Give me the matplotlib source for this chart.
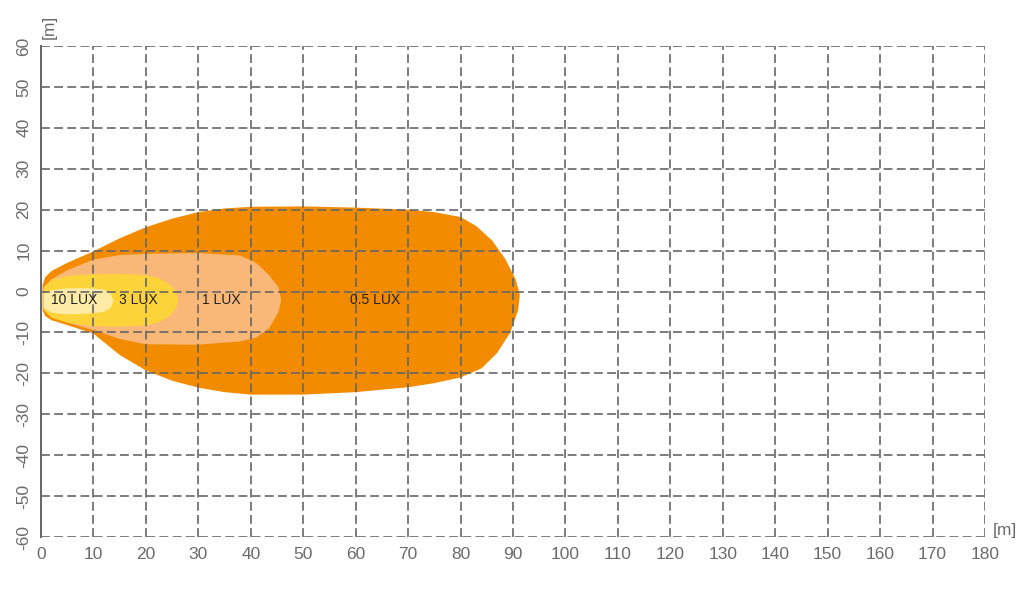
import matplotlib
matplotlib.use("Agg")
import matplotlib.pyplot as plt

plt.rcParams['font.family'] = ['Liberation Sans', 'DejaVu Sans']
plt.rcParams['axes.unicode_minus'] = False

# Illuminance zones (outline points, metres)
x_05 = [0.3, 0.8, 2, 5, 10, 15, 20, 25, 30, 35, 40, 50, 60, 70, 75, 80, 83, 86,
        88.5, 90.5, 91.3, 91, 89.5, 87, 84, 80, 75, 70, 60, 50, 40, 35, 30, 25,
        20, 15, 10, 5, 2, 0.8, 0.3]
y_05 = [1.5, 3.5, 5, 7, 9.8, 13, 15.7, 17.8, 19.4, 20.3, 20.7, 20.8, 20.5, 20,
        19.4, 18.2, 16, 12.5, 8, 3, -0.8, -4.5, -10, -15, -18.8, -21, -22.4,
        -23.4, -24.6, -25.2, -25.2, -24.6, -23.5, -21.8, -19.3, -15.5, -10.3,
        -8.2, -7.0, -6.0, -4.5]

x_1 = [0.5, 2, 5, 10, 15, 20, 30, 38, 41, 43.5, 45.3, 45.8, 45.3, 43.5, 41, 38,
       30, 20, 15, 10, 5, 2, 0.5]
y_1 = [1, 3, 5.2, 7.8, 8.9, 9.2, 9.4, 8.8, 7, 4, 1, -2, -5, -9, -11.3, -12.2,
       -13, -12.9, -11.6, -9.4, -7.6, -6, -4]

x_3 = [0.5, 2, 5, 10, 15, 20, 22.5, 24.5, 25.8, 26.2, 25.8, 24.5, 22.5, 20, 15,
       10, 5, 2, 0.5]
y_3 = [1.0, 2.8, 3.8, 4.2, 4.3, 4.0, 3.2, 1.8, 0, -2, -4, -6, -7.5, -8.3, -8.6,
       -8.5, -7.6, -6.4, -4.5]

x_10 = [0.5, 2, 5, 9, 12, 13.3, 13.8, 13.3, 12, 9, 5, 2, 0.5]
y_10 = [-0.5, 0.3, 0.8, 0.8, 0.5, -0.5, -2.3, -4, -5, -5.4, -5.6, -5.2, -4]

zones = [
    ("0.5 LUX", x_05, y_05, "#f28b00", 63.7),
    ("1 LUX", x_1, y_1, "#f9b877", 34.3),
    ("3 LUX", x_3, y_3, "#fcd43a", 18.5),
    ("10 LUX", x_10, y_10, "#feeba6", 6.4),
]

x_ticks = list(range(0, 181, 10))
y_ticks = list(range(-60, 61, 10))

grid_col = "#666666"
text_col = "#6b6b6b"

fig = plt.figure(figsize=(10.24, 5.99), dpi=100)
ax = fig.add_axes([41 / 1024, 1 - 537 / 599, 944 / 1024, 491 / 599])

for label, xs, ys, col, lx in zones:
    ax.fill(xs, ys, color=col, lw=0, zorder=1)
for label, xs, ys, col, lx in zones:
    ax.text(lx, -2.1, label, fontsize=10, color="#222222",
            ha="center", va="center", zorder=4)

ax.set_xlim(0, 180)
ax.set_ylim(-60, 60)
ax.set_xticks(x_ticks)
ax.set_yticks(y_ticks)
ax.tick_params(axis="both", length=0, labelsize=12.5, labelcolor=text_col)
ax.tick_params(axis="x", pad=7)
ax.tick_params(axis="y", pad=7)
for t in ax.get_yticklabels():
    t.set_rotation(90)
    t.set_va("center")

ax.grid(True, color=grid_col, lw=1.2, linestyle=(0, (5.3, 2.6)), zorder=3)
ax.set_axisbelow(False)
for side in ("top", "right", "bottom"):
    ax.spines[side].set_visible(False)
ax.spines["left"].set_color(grid_col)
ax.spines["left"].set_linewidth(1.4)
ax.spines["left"].set_zorder(5)

fig.text(49 / 1024, 1 - 27 / 599, "[m]", rotation=90, fontsize=12.5,
         color=text_col, ha="center", va="center")
fig.text(1005 / 1024, 1 - 530 / 599, "[m]", fontsize=12.5,
         color=text_col, ha="center", va="center")

fig.savefig("out.png", dpi=100)
